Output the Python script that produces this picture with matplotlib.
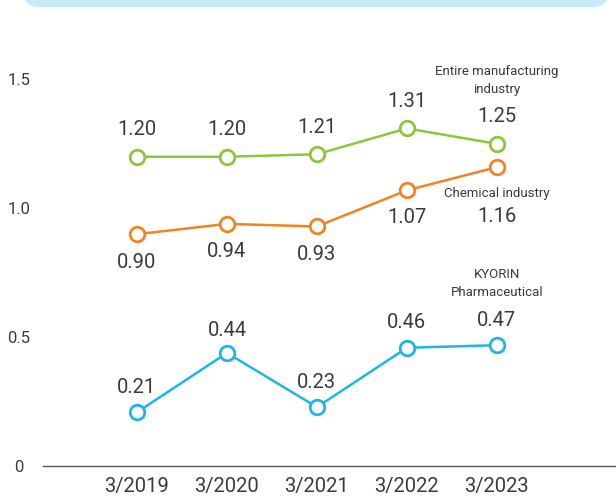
import matplotlib
matplotlib.use("Agg")
import matplotlib.pyplot as plt
import matplotlib.transforms as mtransforms
from matplotlib.patches import FancyBboxPatch

# ----------------------------------------------------------------------
# data
# ----------------------------------------------------------------------
years = ["3/2019", "3/2020", "3/2021", "3/2022", "3/2023"]
manufacturing = [1.20, 1.20, 1.21, 1.31, 1.25]
chemical = [0.90, 0.94, 0.93, 1.07, 1.16]
kyorin = [0.21, 0.44, 0.23, 0.46, 0.47]

GREEN = "#8cc63f"
ORANGE = "#f58220"
BLUE = "#1cb6e9"
TEXT = "#3a3a3a"

plt.rcParams["font.family"] = ["Roboto", "DejaVu Sans"]

fig = plt.figure(figsize=(6.16, 4.97), dpi=100)
ax = fig.add_axes([0.0698, 0.0614, 0.930, 0.835])

x = list(range(len(years)))

# label offsets in pixels (positive = above the point)
green_dy = [27, 27, 27, 27, 27]
orange_dy = [-28, -28, -28, -27, -49]
blue_dy = [25, 22, 25, 25, 25]

series = [
    (manufacturing, GREEN, green_dy),
    (chemical, ORANGE, orange_dy),
    (kyorin, BLUE, blue_dy),
]
for vals, col, dys in series:
    ax.plot(x, vals, color=col, lw=1.8, marker="o", ms=10.5,
            mfc="white", mec=col, mew=2.0, zorder=3, clip_on=False)
    for xi, v, dy in zip(x, vals, dys):
        ax.annotate(f"{v:.2f}", xy=(xi, v), xytext=(0, dy),
                    textcoords="offset pixels", ha="center", va="center",
                    fontsize=14.5, color=TEXT)

# series names next to the last point
last = x[-1]
ax.annotate("Entire manufacturing\nindustry", xy=(last, manufacturing[-1]),
            xytext=(0, 63), textcoords="offset pixels", ha="center",
            va="center", fontsize=9.5, color=TEXT, linespacing=1.5)
ax.annotate("Chemical industry", xy=(last, chemical[-1]), xytext=(0, -26),
            textcoords="offset pixels", ha="center", va="center",
            fontsize=9.5, color=TEXT)
ax.annotate("KYORIN\nPharmaceutical", xy=(last, kyorin[-1]), xytext=(0, 62),
            textcoords="offset pixels", ha="center", va="center",
            fontsize=9.5, color=TEXT, linespacing=1.5)

# ----------------------------------------------------------------------
# axes
# ----------------------------------------------------------------------
ax.set_xlim(-1.044, 5.322)
ax.set_ylim(0, 1.608)
ax.set_xticks(x)
ax.set_xticklabels(years, fontsize=14.5, color=TEXT)
ax.set_yticks([0, 0.5, 1.0, 1.5])
ax.set_yticklabels(["0", "0.5", "1.0", "1.5"], fontsize=12, color=TEXT)
ax.tick_params(axis="both", length=0)
ax.tick_params(axis="x", pad=7.5)
ax.tick_params(axis="y", pad=0)

# centre the y labels in the left margin
shift = mtransforms.ScaledTranslation(-0.24, 0, fig.dpi_scale_trans)
for lab in ax.get_yticklabels():
    lab.set_transform(lab.get_transform() + shift)
    lab.set_horizontalalignment("center")

for side in ("top", "right", "left"):
    ax.spines[side].set_visible(False)
ax.spines["bottom"].set_color("#555555")
ax.spines["bottom"].set_linewidth(1.0)

# light blue header strip at the top edge
fig.patches.append(FancyBboxPatch((23, 490), 586, 40,
                                  boxstyle="round,pad=0,rounding_size=16",
                                  transform=None, facecolor="#c7e9f8",
                                  edgecolor="none"))

fig.savefig("out.png", dpi=100)
